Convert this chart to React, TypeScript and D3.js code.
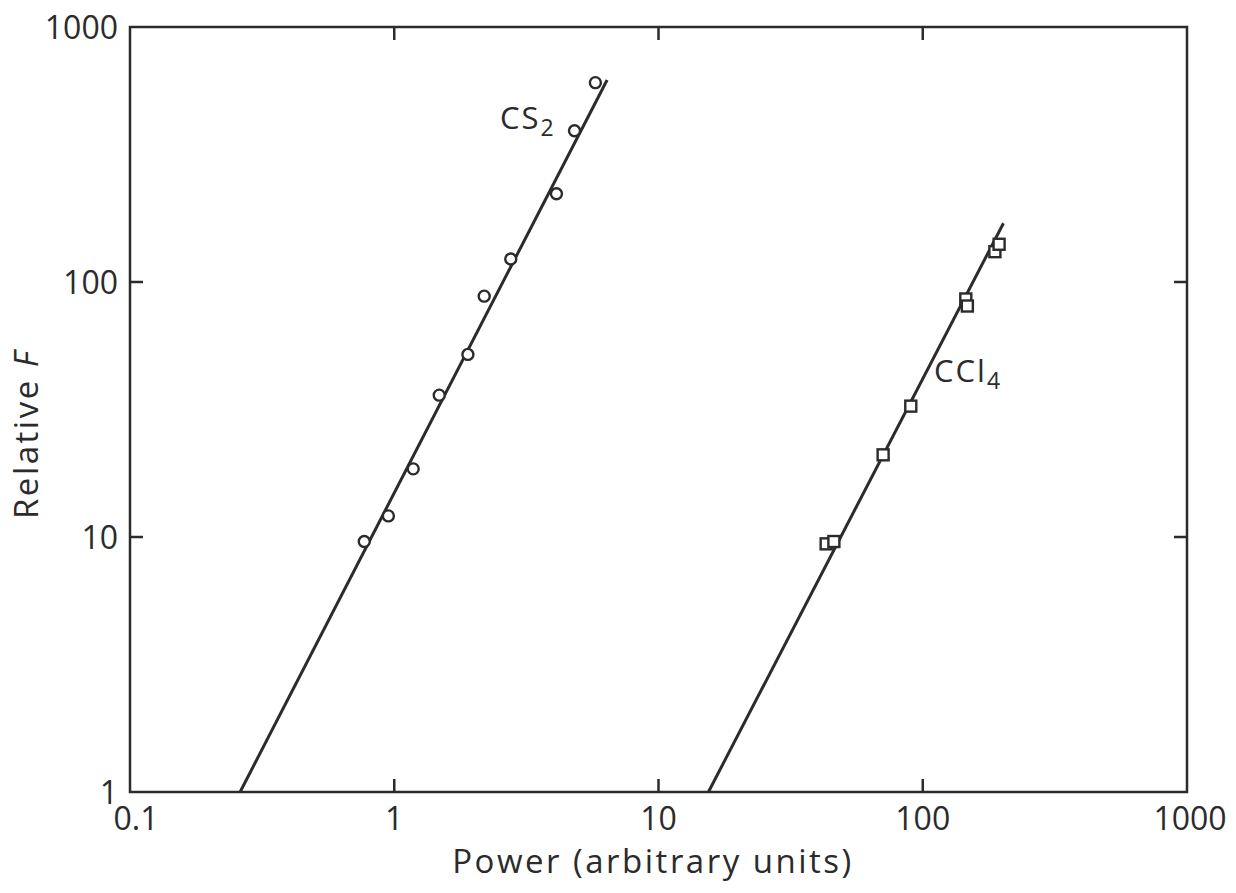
import React from 'react';
import * as d3 from 'd3';

const W = 1236;
const H = 893;
const INK = '#2b2b2b';
const FONT = '"Open Sans", "DejaVu Sans", sans-serif';

// CS2 measured points (power, relative F)
const cs2Power = [0.77, 0.95, 1.18, 1.48, 1.9, 2.19, 2.76, 4.11, 4.81, 5.77];
const cs2F = [9.6, 12.1, 18.5, 36, 52, 88, 123, 222, 392, 605];
// CS2 fitted line end points
const cs2FitPower = [0.261, 6.39];
const cs2FitF = [1, 620];

// CCl4 measured points
const cclPower = [43.1, 46.1, 70.8, 90.1, 145.5, 147.5, 187.5, 194.5];
const cclF = [9.4, 9.6, 21.0, 32.6, 85.8, 80.5, 131.5, 140.6];
const cclFitPower = [15.45, 202];
const cclFitF = [1, 170];

const xTicks = [0.1, 1, 10, 100, 1000];
const xTickLabels = ['0.1', '1', '10', '100', '1000'];
const yTicks = [1, 10, 100, 1000];
const yTickLabels = ['1', '10', '100', '1000'];

const x = d3.scaleLog().domain([0.1, 1000]).range([130, 1187]);
const y = d3.scaleLog().domain([1, 1000]).range([792, 27]);

const TICK = 13;

export default function App() {
  const line = d3
    .line<[number, number]>()
    .x((d) => x(d[0]))
    .y((d) => y(d[1]));

  const cs2Fit = line(cs2FitPower.map((p, i) => [p, cs2FitF[i]]));
  const cclFit = line(cclFitPower.map((p, i) => [p, cclFitF[i]]));

  const [x0, x1] = x.range();
  const [y0, y1] = y.range();
  const innerX = xTicks.filter((t) => t > 0.1 && t < 1000);
  const innerY = yTicks.filter((t) => t > 1 && t < 1000);

  return (
    <svg
      width={W}
      height={H}
      style={{ position: 'absolute', left: 0, top: 0, background: '#fff' }}
      fontFamily={FONT}
    >
      {/* frame */}
      <rect
        x={x0}
        y={y1}
        width={x1 - x0}
        height={y0 - y1}
        fill="none"
        stroke={INK}
        strokeWidth={2.5}
      />

      {/* inward ticks */}
      {innerX.map((t) => (
        <g key={'xt' + t} stroke={INK} strokeWidth={2.5}>
          <line x1={x(t)} x2={x(t)} y1={y0} y2={y0 - TICK} />
          <line x1={x(t)} x2={x(t)} y1={y1} y2={y1 + TICK} />
        </g>
      ))}
      {innerY.map((t) => (
        <g key={'yt' + t} stroke={INK} strokeWidth={2.5}>
          <line x1={x0} x2={x0 + TICK} y1={y(t)} y2={y(t)} />
          <line x1={x1} x2={x1 - TICK} y1={y(t)} y2={y(t)} />
        </g>
      ))}

      {/* tick labels */}
      {xTicks.map((t, i) => (
        <text
          key={'xl' + t}
          x={x(t) + (i === 0 ? 6 : i === 4 ? 3 : 0)}
          y={830}
          textAnchor="middle"
          fontSize={32}
          fill={INK}
        >
          {xTickLabels[i]}
        </text>
      ))}
      {yTicks.map((t, i) => (
        <text
          key={'yl' + t}
          x={118}
          y={y(t)}
          dy="0.36em"
          textAnchor="end"
          fontSize={32}
          fill={INK}
        >
          {yTickLabels[i]}
        </text>
      ))}

      {/* axis titles */}
      <text x={653} y={873} textAnchor="middle" fontSize={33} fill={INK} letterSpacing={2.5}>
        Power (arbitrary units)
      </text>
      <text
        transform="translate(38,434) rotate(-90)"
        textAnchor="middle"
        fontSize={33}
        fill={INK}
        letterSpacing={2.5}
      >
        Relative <tspan fontStyle="italic">F</tspan>
      </text>

      {/* fitted lines */}
      <path d={cs2Fit ?? ''} fill="none" stroke={INK} strokeWidth={3} />
      <path d={cclFit ?? ''} fill="none" stroke={INK} strokeWidth={3} />

      {/* CS2 circles */}
      {cs2Power.map((p, i) => (
        <circle
          key={'c' + i}
          cx={x(p)}
          cy={y(cs2F[i])}
          r={5.5}
          fill="#fff"
          stroke={INK}
          strokeWidth={2.4}
        />
      ))}

      {/* CCl4 squares */}
      {cclPower.map((p, i) => (
        <rect
          key={'s' + i}
          x={x(p) - 5.5}
          y={y(cclF[i]) - 5.5}
          width={11}
          height={11}
          fill="#fff"
          stroke={INK}
          strokeWidth={2.4}
        />
      ))}

      {/* series labels */}
      <text x={500} y={129} fontSize={31} fill={INK} letterSpacing={2}>
        CS
        <tspan fontSize={23} dy={7}>2</tspan>
      </text>
      <text x={934} y={382} fontSize={31} fill={INK} letterSpacing={2}>
        CCl
        <tspan fontSize={23} dy={7}>4</tspan>
      </text>
    </svg>
  );
}
